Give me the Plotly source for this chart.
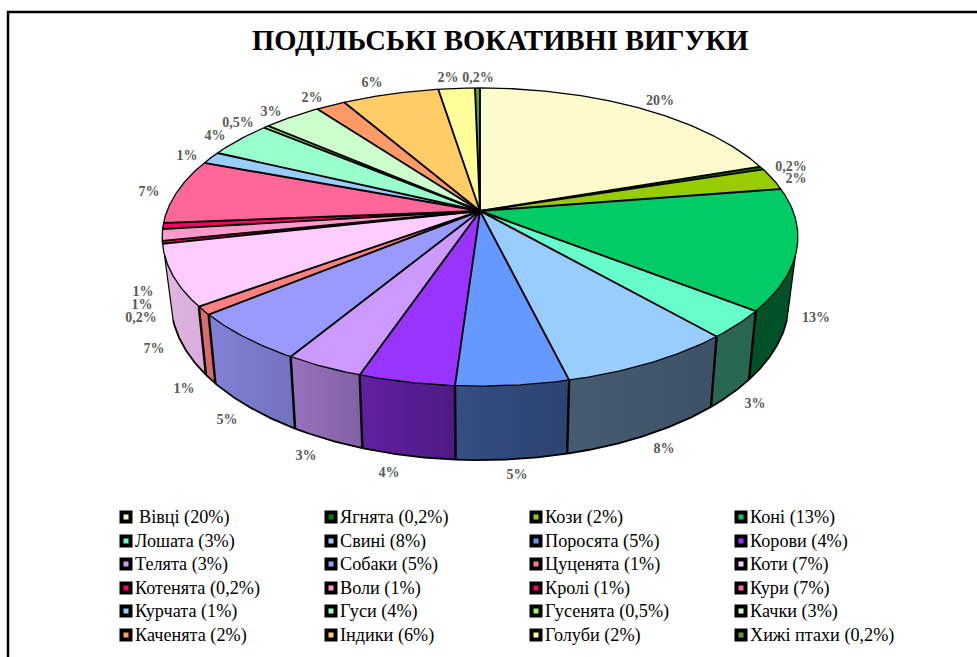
import math
import numpy as np
import plotly.graph_objects as go

TITLE = "ПОДІЛЬСЬКІ ВОКАТИВНІ ВИГУКИ"
NAMES = ["Вівці", "Ягнята", "Кози", "Коні", "Лошата", "Свині", "Поросята", "Корови",
         "Телята", "Собаки", "Цуценята", "Коти", "Котенята", "Воли", "Кролі", "Кури",
         "Курчата", "Гуси", "Гусенята", "Качки", "Каченята", "Індики", "Голуби", "Хижі птахи"]
VALUES = [19.75, 0.35, 2.4, 13.1, 3.0, 7.6, 4.85, 4.15, 3.4, 5.4, 0.9, 6.6,
          0.3, 1.25, 0.65, 7.05, 1.35, 3.98, 0.32, 3.5, 1.77, 5.83, 2.2, 0.3]
PCT_LABELS = ["20%", "0,2%", "2%", "13%", "3%", "8%", "5%", "4%", "3%", "5%", "1%", "7%",
              "0,2%", "1%", "1%", "7%", "1%", "4%", "0,5%", "3%", "2%", "6%", "2%", "0,2%"]
COLORS = ["#FDFBCB", "#008000", "#99CC00", "#00CC66", "#66FFCC", "#99CCFF", "#6699FF", "#9933FF",
          "#CC99FF", "#9999FF", "#FF8080", "#FFCCFF", "#FF0066", "#FF99CC", "#FF0066", "#FF6699",
          "#99CCFF", "#99FFCC", "#99FF66", "#CCFFCC", "#FF9966", "#FFCC66", "#FFFF99", "#669933"]

# layout (pixels of the 977x657 page)
LABEL_XY = [(660, 101), (791, 167), (796, 179), (816, 318), (755, 404), (664, 449), (517, 475),
            (389, 473), (306, 456), (227, 420), (184, 389), (154, 349), (141, 318), (142, 305),
            (143, 292), (149, 192), (187, 156), (215, 136), (238, 123), (271, 112), (312, 98),
            (372, 83), (448, 78), (478, 78)]
LEG_COL_X = [126, 331, 536, 741]
LEG_ROW_Y = [517, 541, 564, 588, 611, 635]
TOP = dict(cx=480, cy=211, a=144.5, b=313, k=0.1745)
BOT = dict(cx=480, cy=273, a=153.4, b=304, k=0.18)
SIDE_FROM, SIDE_TO = 107, 253
SHADE_X = [160, 190, 250, 300, 340, 360, 420, 500, 600, 730, 800]
SHADE_F = [0.88, 0.87, 0.80, 0.74, 0.68, 0.64, 0.56, 0.46, 0.44, 0.40, 0.40]


def project(theta_deg, d):
    t = np.radians(theta_deg)
    u, v = np.sin(t), np.cos(t)
    den = 1 + d["k"] * v
    return d["cx"] + d["b"] * u / den, d["cy"] - d["a"] * v / den


def shade(hex_color, x):
    f = float(np.interp(x, SHADE_X, SHADE_F))
    r, g, b = [int(hex_color[i:i + 2], 16) for i in (1, 3, 5)]
    return f"rgb({int(r * f)},{int(g * f)},{int(b * f)})"


total = sum(VALUES)
edges = np.concatenate([[0], np.cumsum(VALUES)]) / total * 360

fig = go.Figure()

# side wall
seam_x, seam_y, rim_x, rim_y = [], [], [], []
for i, col in enumerate(COLORS):
    a0, a1 = max(edges[i], SIDE_FROM), min(edges[i + 1], SIDE_TO)
    if a1 <= a0:
        continue
    th = np.linspace(a0, a1, max(4, int((a1 - a0) * 3)))
    tx, ty = project(th, TOP)
    bx, by = project(th, BOT)
    xs = np.concatenate([tx, bx[::-1], tx[:1]])
    ys = np.concatenate([ty, by[::-1], ty[:1]])
    fig.add_trace(go.Scatter(
        x=xs, y=ys, mode="lines", fill="toself", line=dict(width=0, color="rgba(0,0,0,0)"),
        fillgradient=dict(type="horizontal", colorscale=[[0, shade(col, xs.min())], [1, shade(col, xs.max())]]),
        hoverinfo="skip", showlegend=False))
    if edges[i] > SIDE_FROM:
        seam_x += [tx[0], bx[0], None]
        seam_y += [ty[0], by[0], None]
    rim_x += list(bx) + [None]
    rim_y += list(by) + [None]

# top faces
for i, col in enumerate(COLORS):
    th = np.linspace(edges[i], edges[i + 1], max(3, int((edges[i + 1] - edges[i]) * 3)))
    x, y = project(th, TOP)
    xs = np.concatenate([[TOP["cx"]], x, [TOP["cx"]]])
    ys = np.concatenate([[TOP["cy"]], y, [TOP["cy"]]])
    fig.add_trace(go.Scatter(x=xs, y=ys, mode="lines", fill="toself", fillcolor=col,
                             line=dict(width=0, color=col), hoverinfo="skip", showlegend=False))

# outlines
fig.add_trace(go.Scatter(x=seam_x, y=seam_y, mode="lines", line=dict(color="black", width=2.4),
                         hoverinfo="skip", showlegend=False))
sx, sy = [], []
for a in (SIDE_FROM, SIDE_TO):
    tx, ty = project(np.array([a]), TOP)
    bx, by = project(np.array([a]), BOT)
    sx += [tx[0], bx[0], None]
    sy += [ty[0], by[0], None]
fig.add_trace(go.Scatter(x=sx, y=sy, mode="lines", line=dict(color="black", width=1.2),
                         hoverinfo="skip", showlegend=False))
fig.add_trace(go.Scatter(x=rim_x, y=rim_y, mode="lines", line=dict(color="black", width=1.8),
                         hoverinfo="skip", showlegend=False))
spoke_x, spoke_y = [], []
for e in edges[:-1]:
    x, y = project(np.array([e]), TOP)
    spoke_x += [TOP["cx"], x[0], None]
    spoke_y += [TOP["cy"], y[0], None]
fig.add_trace(go.Scatter(x=spoke_x, y=spoke_y, mode="lines", line=dict(color="black", width=1.9),
                         hoverinfo="skip", showlegend=False))
ax, ay = project(np.linspace(0, 360, 721), TOP)
fig.add_trace(go.Scatter(x=ax, y=ay, mode="lines", line=dict(color="black", width=1.3),
                         hoverinfo="skip", showlegend=False))

# percentage labels
fig.add_trace(go.Scatter(
    x=[p[0] for p in LABEL_XY], y=[p[1] for p in LABEL_XY], text=PCT_LABELS, mode="text",
    textposition="middle center", textfont=dict(family="Liberation Serif", size=14, color="#595959", weight="bold"),
    hoverinfo="skip", showlegend=False))

# legend grid
leg_x, leg_y, leg_c, leg_t = [], [], [], []
for i, (n, p, c) in enumerate(zip(NAMES, PCT_LABELS, COLORS)):
    r, col = divmod(i, 4)
    leg_x.append(LEG_COL_X[col])
    leg_y.append(LEG_ROW_Y[r])
    leg_c.append(c)
    leg_t.append(f"{n} ({p})")
fig.add_trace(go.Scatter(x=leg_x, y=leg_y, mode="markers",
                         marker=dict(symbol="square", size=9, color=leg_c, line=dict(color="black", width=4)),
                         hoverinfo="skip", showlegend=False))
for i, (x, y, t) in enumerate(zip(leg_x, leg_y, leg_t)):
    fig.add_annotation(x=x + (11 if i == 0 else 7), y=y, text=t, showarrow=False, xanchor="left", yanchor="middle",
                       font=dict(family="Liberation Serif", size=18.2, color="black"))

fig.add_annotation(x=500, y=40, text=f"<b>{TITLE}</b>", showarrow=False, xanchor="center", yanchor="middle",
                   font=dict(family="Liberation Serif", size=28.6, color="black"))

# frame
fig.add_shape(type="rect", x0=8, y0=12, x1=1100, y1=800, line=dict(color="black", width=2.5), layer="below")

fig.update_xaxes(range=[0, 977], visible=False, fixedrange=True)
fig.update_yaxes(range=[657, 0], visible=False, fixedrange=True)
fig.update_layout(width=977, height=657, margin=dict(l=0, r=0, t=0, b=0), paper_bgcolor="white",
                  plot_bgcolor="white", showlegend=False)

fig.write_html("out.html", config=dict(displayModeBar=False),
               post_script="document.body.style.margin='0';")
